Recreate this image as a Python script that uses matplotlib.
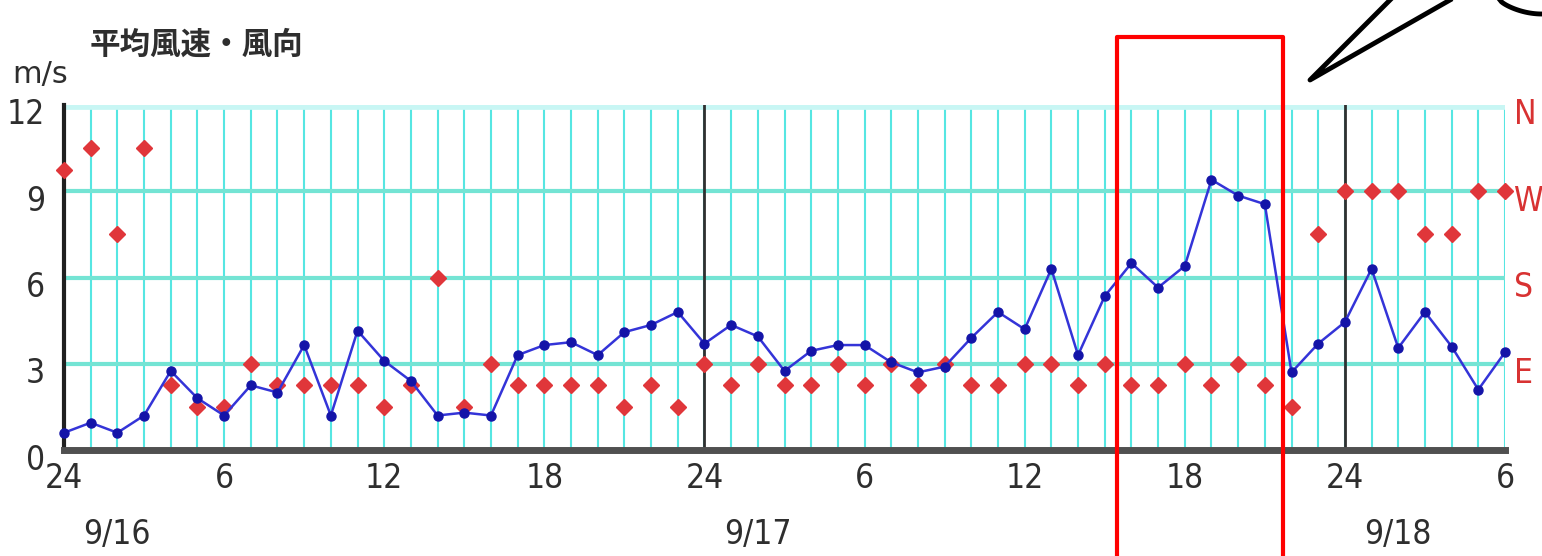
import matplotlib.pyplot as plt
import matplotlib.transforms as mtransforms
from matplotlib import font_manager
import numpy as np

# hourly data, 9/16 0:00 (label "24") .. 9/18 6:00
hours = np.arange(55)
speed = [0.6, 0.95, 0.6, 1.2, 2.75, 1.8, 1.2, 2.25, 2.0, 3.65, 1.2, 4.15, 3.1, 2.4, 1.2,
         1.3, 1.2, 3.3, 3.65, 3.75, 3.3, 4.1, 4.35, 4.8, 3.7, 4.35, 3.95, 2.75, 3.45, 3.65,
         3.65, 3.05, 2.7, 2.9, 3.9, 4.8, 4.2, 6.3, 3.3, 5.35, 6.5, 5.65, 6.4, 9.4, 8.85,
         8.55, 2.7, 3.7, 4.45, 6.3, 3.55, 4.8, 3.6, 2.1, 3.4]
# wind direction on the same 0-12 scale (E=3, S=6, W=9, N=12)
direction = [9.75, 10.5, 7.5, 10.5, 2.25, 1.5, 1.5, 3, 2.25, 2.25, 2.25, 2.25, 1.5, 2.25, 6,
             1.5, 3, 2.25, 2.25, 2.25, 2.25, 1.5, 2.25, 1.5, 3, 2.25, 3, 2.25, 2.25, 3,
             2.25, 3, 2.25, 3, 2.25, 2.25, 3, 3, 2.25, 3, 2.25, 2.25, 3, 2.25, 3,
             2.25, 1.5, 7.5, 9, 9, 9, 7.5, 7.5, 9, 9]

xtick_pos = [0, 6, 12, 18, 24, 30, 36, 42, 48, 54]
xtick_lab = ['24', '6', '12', '18', '24', '6', '12', '18', '24', '6']
ytick_pos = [0, 3, 6, 9, 12]
ytick_lab = ['0', '3', '6', '9', '12']
dates = ['9/16', '9/17', '9/18']
date_pos = [2, 26, 50]
dir_labels = ['N', 'W', 'S', 'E']
dir_pos = [12, 9, 6, 3]

# narrow face for the digits if there is one
installed = {f.name for f in font_manager.fontManager.ttflist}
if 'Liberation Sans Narrow' in installed:
    num_font = dict(family=['Liberation Sans Narrow', 'DejaVu Sans'], fontsize=28)
else:
    num_font = dict(family=['DejaVu Sans'], fontstretch='condensed', fontsize=24)
jp_font = ['Noto Sans CJK JP', 'DejaVu Sans']
txt_col = '#2e2e2e'

W, H = 1542, 556
fig = plt.figure(figsize=(W / 100, H / 100), dpi=100)
ax = fig.add_axes([64 / W, (H - 450) / H, (1505 - 64) / W, (450 - 105) / H])

ax.set_xlim(0, 54)
ax.set_ylim(0, 12)

# grid
for h in hours:
    ax.axvline(h, color='#56e6e2', lw=1.5, zorder=1)
for v in [3, 6, 9]:
    ax.axhline(v, color='#74e4d4', lw=3, zorder=1)
ax.axhline(12, color='#c8f6f4', lw=7, zorder=1)
for d in [24, 48]:
    ax.axvline(d, color='#303030', lw=2, zorder=2)

# series
ax.plot(hours, direction, linestyle='none', marker='D', ms=8, color='#e0363a',
        mec='#e0363a', zorder=3, clip_on=False)
ax.plot(hours, speed, color='#3434d8', lw=1.8, marker='o', ms=6.5, mfc='#1414a8',
        mec='#1414a8', zorder=4, clip_on=False)

for s in ['top', 'right']:
    ax.spines[s].set_visible(False)
ax.spines['left'].set_color('#202020')
ax.spines['left'].set_linewidth(3)
ax.spines['bottom'].set_color('#505050')
ax.spines['bottom'].set_linewidth(5)

ax.set_xticks(xtick_pos)
ax.set_xticklabels(xtick_lab, color=txt_col, **num_font)
ax.set_yticks(ytick_pos)
ax.set_yticklabels([])
ax.tick_params(length=0)
ax.tick_params(axis='x', pad=9)

# y labels sit a little below their grid line, as in the source chart
down = mtransforms.ScaledTranslation(0, -0.10, fig.dpi_scale_trans)
for lab, p in zip(ytick_lab, ytick_pos):
    ax.text(-0.013, p, lab, ha='right', va='center', color=txt_col,
            transform=ax.get_yaxis_transform() + down, **num_font)
for lab, p in zip(dir_labels, dir_pos):
    ax.text(1.006, p, lab, ha='left', va='center', color='#d83232',
            transform=ax.get_yaxis_transform() + down, **num_font)

for lab, p in zip(dates, date_pos):
    ax.text(p, -2.95, lab, ha='center', va='center', color=txt_col, **num_font)

fig.text(90 / W, 1 - 45 / H, '平均風速・風向', family=jp_font, fontsize=22,
         weight='bold', color=txt_col, va='center', ha='left')
fig.text(12 / W, 1 - 75 / H, 'm/s', family=num_font['family'], fontsize=22,
         color=txt_col, va='center', ha='left')

# red highlight box and callout lines on top of the chart
def fx(px):
    return px / W

def fy(py):
    return 1 - py / H

fig.add_artist(plt.Line2D([fx(1117), fx(1117), fx(1283), fx(1283)],
                          [fy(560), fy(37), fy(37), fy(560)], color='#ff0000', lw=3))
fig.add_artist(plt.Line2D([fx(1390), fx(1310), fx(1450)], [fy(0), fy(80), fy(0)],
                          color='black', lw=3.5))
t = np.linspace(0, 1, 30)
fig.add_artist(plt.Line2D(fx(1500 + 42 * t), fy(14 * np.sin(t * np.pi / 2) ** 0.7),
                          color='black', lw=3.5))

fig.savefig('out.png', dpi=100)
